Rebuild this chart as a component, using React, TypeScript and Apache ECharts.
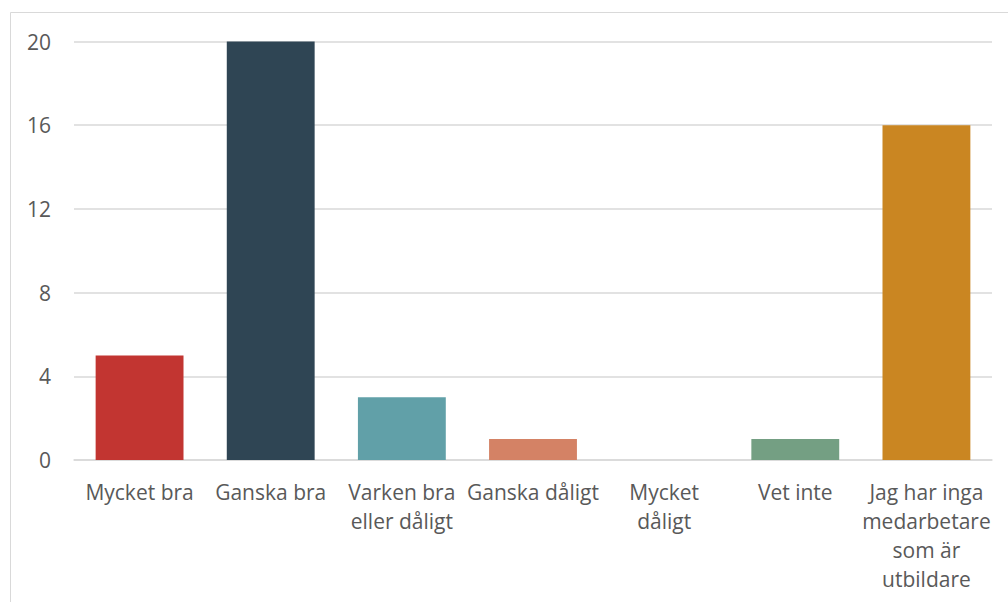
import React, { useEffect, useRef } from "react";
import * as echarts from "echarts";

const categories = [
  "Mycket bra",
  "Ganska bra",
  "Varken bra\neller dåligt",
  "Ganska dåligt",
  "Mycket\ndåligt",
  "Vet inte",
  "Jag har inga\nmedarbetare\nsom är\nutbildare",
];
const values = [5, 20, 3, 1, 0, 1, 16];
const colors = ["#c23531", "#2f4554", "#61a0a8", "#d48265", "#91c7ae", "#749f83", "#ca8622"];
const yMin = 0;
const yMax = 20;
const yStep = 4;

export default function App() {
  const ref = useRef<HTMLDivElement>(null);
  useEffect(() => {
    if (!ref.current) return;
    const chart = echarts.init(ref.current, undefined, { renderer: "svg" });
    const font = "'Open Sans', sans-serif";
    chart.setOption({
      animation: false,
      backgroundColor: "#ffffff",
      graphic: [
        {
          type: "rect",
          shape: { x: 10.5, y: 12.5, width: 1200, height: 800 },
          style: { fill: "none", stroke: "#d9d9d9", lineWidth: 1 },
          silent: true,
        },
      ],
      grid: { left: 74, right: 16, top: 41.5, bottom: 142, containLabel: false },
      xAxis: {
        type: "category",
        data: categories,
        axisLine: { show: true, lineStyle: { color: "#d9d9d9", width: 1.5 } },
        axisTick: { show: false },
        axisLabel: {
          interval: 0,
          color: "#595959",
          fontFamily: font,
          fontSize: 21,
          lineHeight: 29,
          margin: 17,
          align: "center",
        },
      },
      yAxis: {
        type: "value",
        min: yMin,
        max: yMax,
        interval: yStep,
        axisLine: { show: false },
        axisTick: { show: false },
        splitLine: { lineStyle: { color: "#d9d9d9", width: 1.5 } },
        axisLabel: {
          color: "#595959",
          fontFamily: font,
          fontSize: 21,
          margin: 23,
        },
      },
      series: [
        {
          type: "bar",
          barCategoryGap: "33%",
          data: values.map((v, i) => ({ value: v, itemStyle: { color: colors[i] } })),
        },
      ],
    });
    return () => chart.dispose();
  }, []);
  return (
    <div
      ref={ref}
      style={{ position: "absolute", left: 0, top: 0, width: 1008, height: 602 }}
    />
  );
}
